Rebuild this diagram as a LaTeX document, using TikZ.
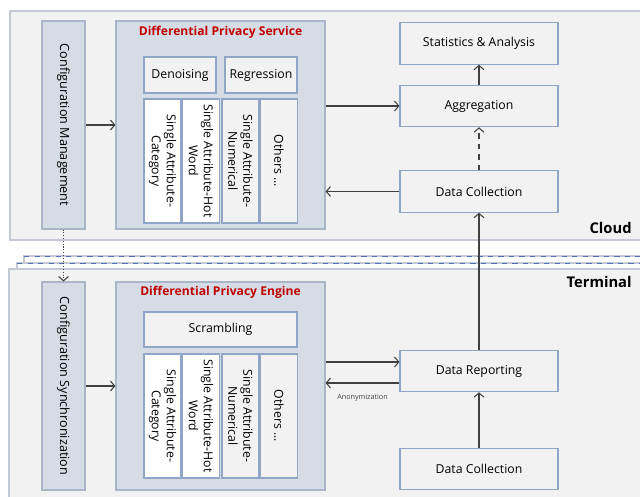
\documentclass[tikz,border=0pt]{standalone}
\usepackage{fontspec}
\setmainfont{Open Sans}
\usetikzlibrary{positioning,arrows.meta}

\definecolor{panefill}{HTML}{F2F2F2}
\definecolor{paneline}{HTML}{C3CAD5}
\definecolor{groupfill}{HTML}{D6DCE5}
\definecolor{groupline}{HTML}{A9B6C8}
\definecolor{boxline}{HTML}{8FA6C6}
\definecolor{stackline}{HTML}{4F74B0}
\definecolor{titlered}{HTML}{C00000}
\definecolor{arrowgray}{HTML}{404040}

\begin{document}
\begin{tikzpicture}[x=0.02cm, y=-0.02cm,
    >={Straight Barb[length=2.4pt, width=5.6pt]},
    group/.style={draw=groupline, fill=groupfill, line width=0.7pt, inner sep=0pt,
        minimum width=0.86cm, minimum height=4.16cm},
    box/.style={draw=boxline, fill=panefill, line width=0.6pt, inner sep=0pt, align=center,
        font=\fontsize{7}{8.6}\selectfont},
    wide/.style={box, minimum width=3.16cm, minimum height=0.83cm},
    small/.style={box, minimum width=1.44cm, minimum height=0.72cm},
    vbox/.style={box, rotate=-90, minimum width=2.48cm, minimum height=0.74cm},
    flow/.style={->, draw=arrowgray, line width=0.6pt},
    title/.style={font=\fontsize{6.9}{8}\selectfont\bfseries, text=titlered},
    side/.style={font=\fontsize{8.4}{10}\selectfont\bfseries, anchor=east, inner sep=0pt}]

    \useasboundingbox (0,0) rectangle (640,497);
    \clip (0,0) rectangle (640,497);
    \fill[white] (0,0) rectangle (640,497);

    \draw[paneline, fill=panefill, line width=1.2pt] (10,11) rectangle (660,240);
    \draw[paneline, fill=white, line width=1pt] (24,256) rectangle (660,290);
    \draw[stackline, dashed, line width=0.5pt] (24,256) -- (660,256);
    \draw[paneline, fill=white, line width=1pt] (17,263) rectangle (660,290);
    \draw[stackline, dashed, line width=0.5pt] (17,263) -- (660,263);
    \draw[paneline, fill=panefill, line width=1.2pt] (9,269) rectangle (660,520);

    \node[side] (cloud) at (632,228) {Cloud};
    \node[side] (terminal) at (632,282) {Terminal};

    \node[group] (cfgm) at (63.5,125) {};
    \node[rotate=-90, font=\fontsize{7.2}{8.6}\selectfont] (cfgmtext) at (cfgm) {Configuration Management};
    \node[group, minimum width=4.18cm] (dps) at (220.5,125) {};
    \node[title] (dpstitle) at (220.5,32) {Differential Privacy Service};

    \node[small] (denoise) at (180,75) {Denoising};
    \node[small] (regress) at (261,75) {Regression};
    \node[vbox, fill=white] (scat) at (162.5,161) {Single Attribute-\\Category};
    \node[vbox, fill=white] (shot) at (201,161) {Single Attribute-Hot\\Word};
    \node[vbox] (snum) at (240.5,161) {Single Attribute-\\Numerical};
    \node[vbox] (sother) at (279,161) {Others ...};

    \node[wide] (stats) at (479,43.5) {Statistics \& Analysis};
    \node[wide] (aggr) at (479,106) {Aggregation};
    \node[wide] (coll) at (479,191.5) {Data Collection};

    \node[group] (cfgs) at (63.5,386) {};
    \node[rotate=-90, font=\fontsize{7.2}{8.6}\selectfont] (cfgstext) at (cfgs) {Configuration Synchronization};
    \node[group, minimum width=4.18cm] (dpe) at (220.5,386) {};
    \node[title] (dpetitle) at (220.5,292) {Differential Privacy Engine};

    \node[box, minimum width=3.06cm, minimum height=0.7cm] (scramble) at (220.5,329.5) {Scrambling};
    \node[vbox, fill=white] (tcat) at (162.5,416) {Single Attribute-\\Category};
    \node[vbox, fill=white] (thot) at (201,416) {Single Attribute-Hot\\Word};
    \node[vbox] (tnum) at (240.5,416) {Single Attribute-\\Numerical};
    \node[vbox] (tother) at (279,416) {Others ...};

    \node[wide] (report) at (479,371) {Data Reporting};
    \node[wide] (tcoll) at (479,469) {Data Collection};

    \draw[flow] (cfgm) -- (dps);
    \draw[flow] (dps.east |- aggr.west) -- (aggr.west);
    \draw[flow] (coll.west) -- (coll.west -| dps.east);
    \draw[flow] (aggr) -- (stats);
    \draw[flow, dashed] (coll) -- (aggr);
    \draw[flow, densely dotted] (cfgm) -- (cfgs);

    \draw[flow] (cfgs) -- (dpe);
    \draw[flow] ([yshift=0.18cm]report.west -| dpe.east) -- ([yshift=0.18cm]report.west);
    \draw[flow] ([yshift=-0.24cm]report.west) -- ([yshift=-0.24cm]report.west -| dpe.east)
        node[pos=0.5, below=3pt, font=\fontsize{4.1}{5}\selectfont, text=arrowgray] (anon) {Anonymization};
    \draw[flow] (tcoll) -- (report);
    \draw[flow] (report) -- (coll);

\end{tikzpicture}
\end{document}
